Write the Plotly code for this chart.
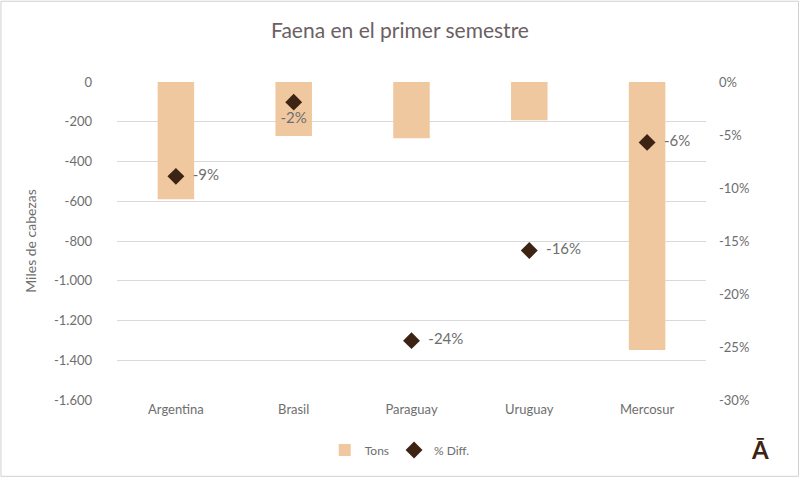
import plotly.graph_objects as go

categories = ["Argentina", "Brasil", "Paraguay", "Uruguay", "Mercosur"]
tons = [-590, -272, -283, -192, -1348]
pct_diff = [-0.089, -0.019, -0.244, -0.159, -0.057]
left_ticks = [0, -200, -400, -600, -800, -1000, -1200, -1400, -1600]
left_labels = ["0", "-200", "-400", "-600", "-800", "-1.000", "-1.200", "-1.400", "-1.600"]
right_ticks = [0, -0.05, -0.10, -0.15, -0.20, -0.25, -0.30]
right_labels = ["0%", "-5%", "-10%", "-15%", "-20%", "-25%", "-30%"]
label_pos = ["middle right", "bottom center", "middle right", "middle right", "middle right"]

FONT = "Lato"
GRAY = "#6e6e6e"

labels = []
for v, p in zip(pct_diff, label_pos):
    t = f"{round(v*100)}%"
    labels.append(("  " + t) if p == "middle right" else t + "<br> ")

fig = go.Figure()
fig.add_trace(go.Bar(
    x=categories, y=tons, name="Tons",
    marker=dict(color="#F0C8A0", line=dict(width=0)),
    width=0.31, yaxis="y",
))
fig.add_trace(go.Scatter(
    x=categories, y=pct_diff, name="% Diff.", yaxis="y2",
    mode="markers+text",
    marker=dict(symbol="diamond", size=13, color="#3D2314"),
    text=labels,
    textposition=label_pos,
    textfont=dict(family=FONT, size=15, color=GRAY),
))

fig.update_layout(
    width=800, height=478,
    paper_bgcolor="white", plot_bgcolor="white",
    margin=dict(l=117, r=94, t=82, b=78),
    title=dict(text="Faena en el primer semestre", x=0.5, xanchor="center",
               y=0.935, yanchor="middle",
               font=dict(family=FONT, size=21, color="#6b6064")),
    font=dict(family=FONT, size=13, color=GRAY),
    bargap=0.69,
    xaxis=dict(showgrid=False, showline=False, ticks="", tickfont=dict(size=13, color=GRAY)),
    yaxis=dict(range=[-1600, 0], tickvals=left_ticks, ticktext=left_labels,
               showgrid=True, gridcolor="#d9d9d9", gridwidth=1, zeroline=False,
               ticklabelstandoff=24, tickfont=dict(size=13, color=GRAY),
               title=dict(text="Miles de cabezas", font=dict(size=14, color=GRAY), standoff=14)),
    yaxis2=dict(range=[-0.30, 0], tickvals=right_ticks, ticktext=right_labels,
                overlaying="y", side="right", showgrid=False, zeroline=False,
                ticklabelstandoff=12, tickfont=dict(size=13, color=GRAY)),
    legend=dict(orientation="h", x=0.48, xanchor="center", y=-0.157, yanchor="middle",
                font=dict(size=12, color=GRAY), itemwidth=30, tracegroupgap=0),
    showlegend=True,
)

fig.add_annotation(text="<b>Ā</b>", xref="paper", yref="paper", x=1.092, y=-0.157,
                   xanchor="center", yanchor="middle", showarrow=False,
                   font=dict(family=FONT, size=24, color="#3D2314"))
fig.add_shape(type="rect", xref="paper", yref="paper", x0=-0.197, y0=-0.24, x1=1.157, y1=1.254,
              line=dict(color="#d0d0d0", width=1))

fig.write_html("out.html", config={"displayModeBar": False},
               post_script="document.body.style.margin='0';")
